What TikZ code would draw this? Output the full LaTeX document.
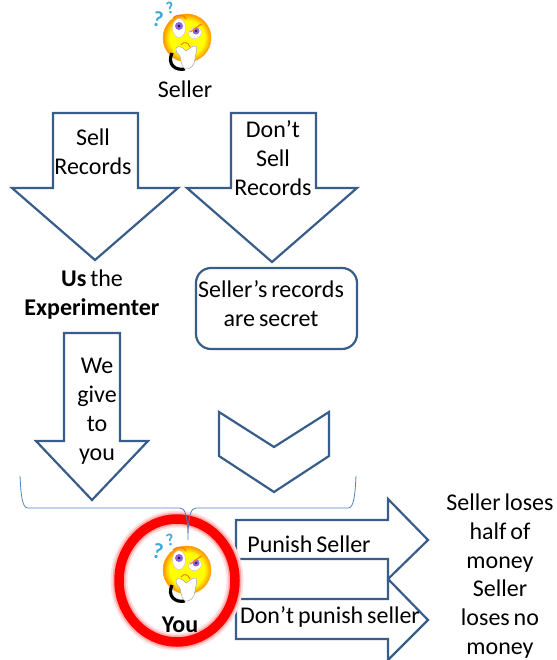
\documentclass[tikz,border=0pt]{standalone}
\usepackage{fontspec}
\setmainfont[WordSpace=0.72]{Carlito}
\usetikzlibrary{positioning}
\definecolor{myblue}{HTML}{385D8A}
\definecolor{mybrace}{HTML}{4F81BD}
\definecolor{myquest}{HTML}{3FA9D6}
\colorlet{faceedge}{orange!85!yellow}
\pgfdeclareradialshading{facefill}{\pgfpoint{0bp}{0bp}}{color(0bp)=(yellow); color(18bp)=(yellow); color(25bp)=(faceedge); color(50bp)=(faceedge)}
\begin{document}
\begin{tikzpicture}[
    x=1pt, y=-1pt,
    blockarrow/.style = {draw=myblue, line width=2.2pt, line join=miter, fill=white},
    lbl/.style = {font=\fontsize{24}{29}\selectfont, align=center, inner sep=0pt, text=black},
    quest/.style = {font=\fontsize{22}{22}\selectfont\bfseries, text=myquest, inner sep=0pt},
    thinker/.pic = {
      \node[quest, rotate=-12] (-qa) at (-29,-19) {?};
      \node[quest, rotate=12, font=\fontsize{17}{17}\selectfont\bfseries] (-qb) at (-17,-30) {?};
      \shade[shading=facefill, draw=orange!70!yellow, line width=0.5pt]
          (0,0) circle [radius=24];
      \draw[black, line width=3.2pt] (-15,15) .. controls (-20,26) and (-12,33) .. (-2,31);
      \fill[white, draw=violet!30] (-8,-10) ellipse [x radius=6.5, y radius=9.5];
      \fill[white, draw=violet!30, rotate around={20:(8,-5)}] (8,-5) ellipse [x radius=6.5, y radius=5.5];
      \fill[violet!45!blue!60] (-8,-12) circle [radius=4];
      \fill[violet!45!blue!60] (9,-7) circle [radius=3.5];
      \fill[black!60!violet] (-8,-12) circle [radius=1.4];
      \fill[black!60!violet] (9,-7) circle [radius=1.2];
      \draw[orange, line width=1.2pt] (-14,-20) .. controls (-8,-25) and (-3,-23) .. (-1,-19);
      \draw[orange, line width=1.2pt] (3,-6) .. controls (8,-9) and (12,-13) .. (15,-14);
      \draw[orange!80!red, line width=0.8pt] (-6,7) .. controls (-3,3) and (1,4) .. (3,9);
      \fill[white, draw=gray!70, line width=0.5pt]
          (-11,10) .. controls (-9,7) and (-4,9) .. (-1,13)
          .. controls (2,11) and (6,7) .. (9,8)
          .. controls (11,12) and (8,17) .. (8,21)
          .. controls (8,27) and (3,32) .. (-2,31)
          .. controls (-7,28) and (-5,20) .. (-8,17)
          .. controls (-10,15) and (-12,13) .. (-11,10) -- cycle;
    },
  ]
\useasboundingbox (0,0) rectangle (556,660);
\coordinate (bracel) at (20,476);
\coordinate (bracem) at (188,508);
\coordinate (bracet) at (188,540);
\coordinate (bracer) at (356,476);
% arrows
\draw[blockarrow] (53,113) -- (138,113) -- (138,188) -- (178,188) -- (95,260) -- (12,188) -- (53,188) -- cycle;
\draw[blockarrow] (231,113) -- (316,113) -- (316,188) -- (357,188) -- (272,262) -- (187,188) -- (231,188) -- cycle;
\draw[blockarrow] (64,333) -- (120,333) -- (120,441) -- (148,441) -- (92,500) -- (36,441) -- (64,441) -- cycle;
\draw[blockarrow] (219,412) -- (274,447) -- (329,412) -- (329,456) -- (274,492) -- (219,456) -- cycle;
\draw[blockarrow] (236,520) -- (388,520) -- (388,499) -- (428,540) -- (388,579) -- (388,559) -- (236,559) -- cycle;
\draw[blockarrow] (236,599) -- (388,599) -- (388,579) -- (428,620) -- (388,660) -- (388,639) -- (236,639) -- cycle;
% secret box
\node[draw=myblue, line width=2.2pt, rounded corners=15pt, minimum width=161pt, minimum height=81pt,
      inner sep=0pt] (secret) at (276.5,308.5) {};
% red ring
\draw[red!12, line width=17pt] (177,580.5) ellipse [x radius=58, y radius=61.5];
\draw[red!32, line width=13pt] (177,580.5) ellipse [x radius=58, y radius=61.5];
\draw[red, line width=9.5pt] (177,580.5) ellipse [x radius=58, y radius=61.5];
% brace
\draw[mybrace, line width=0.8pt] (bracel) .. controls (21,495) and (22,508) .. (28,508) -- (180,508)
    .. controls (185,508) and (188,515) .. (bracet) .. controls (188,515) and (191,508) .. (196,508)
    -- (348,508) .. controls (354,508) and (355,495) .. (bracer);
% faces
\pic (seller) at (187,38) {thinker};
\pic (you) at (187,570) {thinker};
% labels
\node[lbl] (sellername) at (185,89) {Seller};
\node[lbl] (sell) at (93,152) {Sell\\Records};
\node[lbl] (dont) at (273,158) {Don’t\\Sell\\Records};
\node[lbl] (secrettext) at (271,303.5) {Seller’s records\\are secret};
\node[lbl] (exper) at (92,295) {\textbf{Us} the\\\textbf{Experimenter}};
\node[lbl] (give) at (97,411) {We\\give\\to\\you};
\node[lbl] (youname) at (180,625) {\textbf{You}};
\node[lbl] (punish) at (309,544) {Punish Seller};
\node[lbl] (nopunish) at (330,617) {Don’t punish seller};
\node[lbl] (half) at (500,533) {Seller loses\\half of\\money};
\node[lbl] (none) at (500,619) {Seller\\loses no\\money};
\end{tikzpicture}
\end{document}
